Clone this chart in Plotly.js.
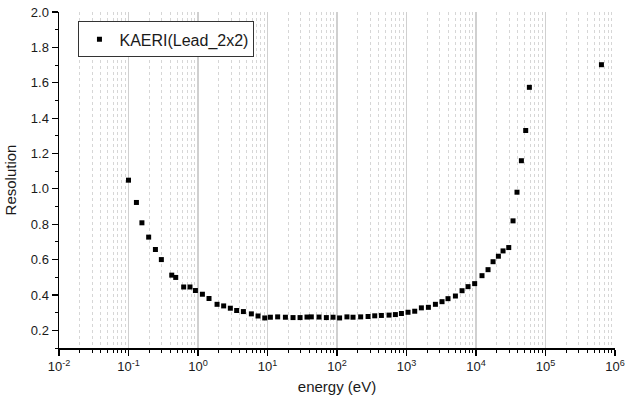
<!DOCTYPE html>
<html>
<head>
<meta charset="utf-8">
<script src="https://cdn.plot.ly/plotly-3.0.1.min.js"></script>
<style>html,body{margin:0;padding:0;background:#fff;}#chart{width:625px;height:397px;}</style>
</head>
<body>
<div id="chart"></div>
<script>
// energy (eV)
var energy = [0.1, 0.13, 0.156, 0.195, 0.244, 0.297, 0.419, 0.478, 0.622, 0.767,
  0.918, 1.157, 1.44, 1.88, 2.34, 2.92, 3.60, 4.50, 5.86, 7.31,
  9.13, 11.0, 14.0, 18.1, 23.3, 29.4, 37.0, 42.7, 55.1,
  70.3, 87.7, 109, 139, 170, 219, 280, 349, 435, 561,
  692, 845, 1052, 1313, 1637, 2065, 2606, 3245, 3955, 5055,
  6300, 7680, 9570,
  12200, 14900, 17600, 21000, 24500, 29600, 34100, 38900, 45000, 51900,
  58600, 638000];
// Resolution
var resolution = [1.049, 0.923, 0.808, 0.727, 0.657, 0.600, 0.512, 0.499, 0.445, 0.445,
  0.425, 0.404, 0.380, 0.347, 0.338, 0.325, 0.312, 0.306, 0.293, 0.281,
  0.270, 0.274, 0.276, 0.274, 0.272, 0.272, 0.275, 0.276, 0.275,
  0.272, 0.274, 0.270, 0.276, 0.274, 0.276, 0.278, 0.282, 0.284, 0.286,
  0.289, 0.295, 0.302, 0.308, 0.327, 0.330, 0.347, 0.362, 0.379, 0.394,
  0.424, 0.447, 0.464,
  0.509, 0.543, 0.588, 0.619, 0.649, 0.668, 0.819, 0.981, 1.159, 1.330,
  1.574, 1.702];
var seriesName = 'KAERI(Lead_2x2)';
var xTickVals = [1e-2, 1e-1, 1e0, 1e1, 1e2, 1e3, 1e4, 1e5, 1e6];
var xTickText = ['10<sup>-2</sup>', '10<sup>-1</sup>', '10<sup>0</sup>', '10<sup>1</sup>',
  '10<sup>2</sup>', '10<sup>3</sup>', '10<sup>4</sup>', '10<sup>5</sup>', '10<sup>6</sup>'];
var yTickVals = [0.2, 0.4, 0.6, 0.8, 1.0, 1.2, 1.4, 1.6, 1.8, 2.0];
var yTickText = ['0.2', '0.4', '0.6', '0.8', '1.0', '1.2', '1.4', '1.6', '1.8', '2.0'];

var minorX = [];
for (var d = 0; d < xTickVals.length - 1; d++) {
  for (var m = 2; m <= 9; m++) minorX.push(xTickVals[d] * m);
}

var fontFam = '"Liberation Sans", Arial, sans-serif';
var xRange = [-2, 6];
var yRange = [0.1, 2.0];

var trace = {
  x: energy, y: resolution, type: 'scatter', mode: 'markers', name: seriesName,
  marker: {symbol: 'square', size: 5, color: '#000'}
};

var layout = {
  width: 625, height: 397,
  margin: {l: 59, r: 10, t: 12, b: 49},
  paper_bgcolor: '#fff', plot_bgcolor: '#fff',
  font: {family: fontFam, color: '#1a1a1a', size: 13},
  showlegend: true,
  legend: {
    x: 0.035, y: 0.972, xanchor: 'left', yanchor: 'top',
    bgcolor: '#fff', bordercolor: '#333', borderwidth: 1,
    font: {family: fontFam, size: 16, color: '#1a1a1a'},
    itemsizing: 'trace'
  },
  xaxis: {
    type: 'log', range: xRange,
    tickmode: 'array', tickvals: xTickVals, ticktext: xTickText,
    ticks: 'outside', ticklen: 6, tickwidth: 1.2, tickcolor: '#000',
    showline: true, linecolor: '#000', linewidth: 1.5,
    showgrid: true, gridcolor: '#d0d0d0', gridwidth: 1.2,
    zeroline: false,
    tickfont: {family: fontFam, size: 13},
    minor: {tickmode: 'array', tickvals: minorX, ticks: 'outside', ticklen: 3, tickwidth: 1, tickcolor: '#000',
      showgrid: true, gridcolor: '#d6d6d6', gridwidth: 1, griddash: 'dot'},
    title: {text: 'energy (eV)', font: {family: fontFam, size: 15}, standoff: 8}
  },
  yaxis: {
    range: yRange,
    tickmode: 'array', tickvals: yTickVals, ticktext: yTickText,
    ticks: 'outside', ticklen: 6, tickwidth: 1.2, tickcolor: '#000',
    showline: true, linecolor: '#000', linewidth: 1.5,
    showgrid: false, zeroline: false,
    tickfont: {family: fontFam, size: 13},
    minor: {dtick: 0.1, tick0: 0.1, ticks: 'outside', ticklen: 3, tickwidth: 1, tickcolor: '#000', showgrid: false},
    title: {text: 'Resolution', font: {family: fontFam, size: 15}, standoff: 10}
  },
  xaxis2: {
    type: 'log', range: xRange, overlaying: 'x', side: 'top', anchor: 'y',
    tickmode: 'array', tickvals: xTickVals, showticklabels: false,
    ticks: 'inside', ticklen: 5, tickwidth: 1.2, tickcolor: '#000',
    showline: true, linecolor: '#000', linewidth: 1.5,
    showgrid: false, zeroline: false,
    minor: {tickmode: 'array', tickvals: minorX, ticks: 'inside', ticklen: 3, tickwidth: 1, tickcolor: '#000', showgrid: false}
  },
  yaxis2: {
    range: yRange, overlaying: 'y', side: 'right', anchor: 'x',
    tickmode: 'linear', tick0: 0.1, dtick: 0.1, showticklabels: false,
    ticks: 'inside', ticklen: 6, tickwidth: 1.2, tickcolor: '#000',
    showline: true, linecolor: '#000', linewidth: 1.5,
    showgrid: false, zeroline: false
  }
};

Plotly.newPlot('chart', [trace], layout, {displayModeBar: false, staticPlot: true});
</script>
</body>
</html>
